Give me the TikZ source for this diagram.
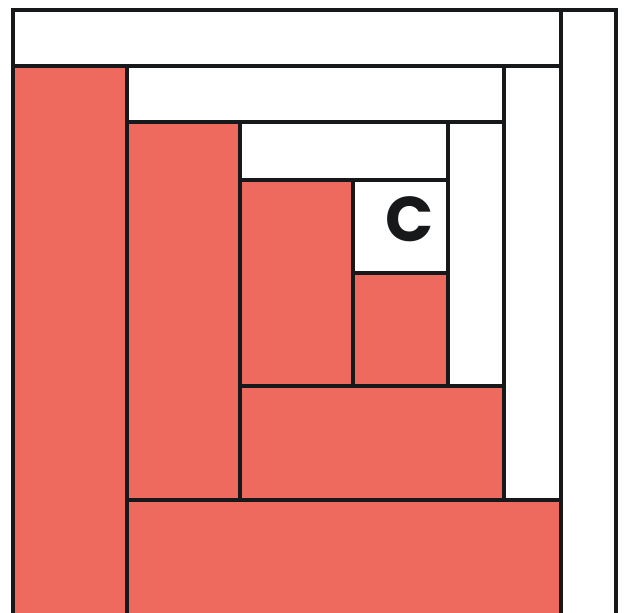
\documentclass[tikz,border=0pt]{standalone}
\usepackage{fontspec}
\newfontfamily\labelfont{Poppins}
\usepackage{tikz}
\usetikzlibrary{positioning}
\usepackage{xcolor}
\definecolor{quiltred}{RGB}{239,106,94}
\definecolor{quiltline}{RGB}{22,24,26}

\tikzset{
  redpatch/.style={fill=quiltred, draw=quiltline, line width=2.8pt},
  whitepatch/.style={fill=white, draw=quiltline, line width=2.8pt}
}

\begin{document}
\begin{tikzpicture}[x=0.02cm, y=-0.02cm]
  \clip (0,0) rectangle (628,612);
  \fill[white] (0,0) rectangle (628,612);
  \filldraw[whitepatch] (13,10) rectangle (561,66);
  \filldraw[whitepatch] (561,10) rectangle (616,630);
  \filldraw[redpatch] (13,66) rectangle (127,630);
  \filldraw[redpatch] (127,500) rectangle (561,630);
  \filldraw[whitepatch] (127,66) rectangle (504,122);
  \filldraw[whitepatch] (504,66) rectangle (561,500);
  \filldraw[redpatch] (127,122) rectangle (240,500);
  \filldraw[redpatch] (240,386) rectangle (504,500);
  \filldraw[whitepatch] (240,122) rectangle (448,180);
  \filldraw[whitepatch] (448,122) rectangle (504,386);
  \filldraw[redpatch] (240,180) rectangle (353,386);
  \filldraw[redpatch] (353,273) rectangle (448,386);
  \filldraw[whitepatch] (353,180) rectangle (448,273);
  \node[text=quiltline, font=\labelfont\bfseries\fontsize{36}{36}\selectfont] (centre) at (410,219) {C};
\end{tikzpicture}
\end{document}
